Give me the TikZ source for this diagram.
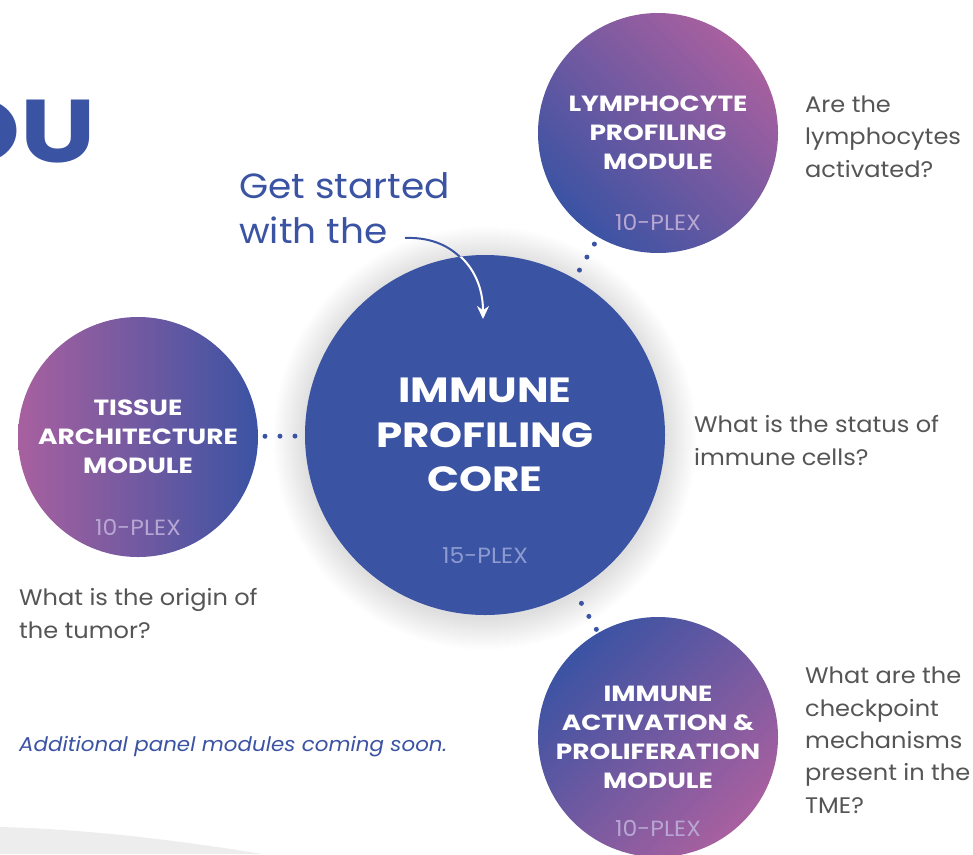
\documentclass[tikz,border=0pt]{standalone}
\usepackage{fontspec}
\setmainfont{Poppins}[FakeStretch=1.07]
\newfontfamily\wideb{Poppins}[FakeStretch=1.2]
\usetikzlibrary{arrows.meta,calc}
\definecolor{cblue}{HTML}{3B53A3}
\definecolor{cpink}{HTML}{A8609F}
\definecolor{cgray}{HTML}{555555}
\definecolor{plexcore}{HTML}{8C9BD0}
\definecolor{plexmod}{HTML}{B7A6D2}
\definecolor{cfloor}{HTML}{EDEDED}
\begin{document}
\begin{tikzpicture}[x=1pt,y=-1pt,
  module/.style={circle, minimum size=240pt, inner sep=0pt, outer sep=0pt, text=white,
    font=\wideb\bfseries\fontsize{22}{29}\selectfont, align=center},
  coreball/.style={circle, minimum size=360pt, inner sep=0pt, outer sep=0pt, fill=cblue, text=white,
    font=\wideb\bfseries\fontsize{35}{44.5}\selectfont, align=center},
  plex/.style={anchor=base, inner sep=0pt, text=plexmod, font=\fontsize{22}{22}\selectfont},
  question/.style={anchor=base west, inner sep=0pt, align=left, text=cgray, font=\fontsize{22.5}{32.3}\selectfont},
  dotline/.style={cblue, line width=5pt, line cap=round, dash pattern=on 0pt off 15pt}
]
\useasboundingbox (0,0) rectangle (973,854);
\clip (0,0) rectangle (973,854);

% floor shape bottom left
\fill[cfloor] (0,827) .. controls (90,829) and (190,842) .. (262,854) -- (0,854) -- cycle;

% soft shadow around core
\foreach \r in {1,...,32}{
  \fill[black, opacity=0.0032] (485,438) circle (180+\r);
}

% circles
\node[coreball] (core) at (485,435) {IMMUNE\\PROFILING\\CORE};
\node[module, top color=cpink, bottom color=cblue, shading angle=-45] (lymph) at (658,133) {LYMPHOCYTE\\PROFILING\\MODULE};
\node[module, left color=cpink, right color=cblue] (tissue) at (138,437) {TISSUE\\ARCHITECTURE\\MODULE};
\node[module, top color=cblue, bottom color=cpink, shading angle=45] (act) at (658,737) {IMMUNE\\ACTIVATION \&\\PROLIFERATION\\MODULE};

% plex labels
\node[plex, text=plexcore] (pcore) at ($(core.center)+(0,128)$) {15-PLEX};
\node[plex] (plymph) at ($(lymph.center)+(0,97)$) {10-PLEX};
\node[plex] (ptissue) at ($(tissue.center)+(0,98)$) {10-PLEX};
\node[plex] (pact) at ($(act.center)+(0,99)$) {10-PLEX};

% dotted connectors
\draw[dotline, shorten <=7pt, shorten >=9.5pt] (tissue) -- (core);
\draw[dotline, shorten <=8pt, shorten >=8.5pt] (lymph) -- (core);
\draw[dotline, shorten <=14pt, shorten >=1.5pt] (core) -- (act);

% questions (anchored at the baseline of the last line)
\node[question] (qlymph) at (805,177) {Are the\\lymphocytes\\activated?};
\node[question] (qcore) at (694,465) {What is the status of\\immune cells?};
\node[question] (qtissue) at (19,638) {What is the origin of\\the tumor?};
\node[question] (qact) at (805,813) {What are the\\checkpoint\\mechanisms\\present in the\\TME?};

% title fragments
\node[anchor=base east, inner sep=0pt, text=cblue, font=\wideb\bfseries\fontsize{89}{89}\selectfont] (ou) at (96,162) {OU};
\node[anchor=base west, inner sep=0pt, align=left, text=cblue, font=\fontsize{35}{45}\selectfont] (start) at (239,243) {Get started\\with the};
\node[anchor=base west, inner sep=0pt, text=cblue, font=\itshape\fontsize{20}{20}\selectfont] (soon) at (19,751) {Additional panel modules coming soon.};

% arrow
\coordinate (astart) at (405,238);
\coordinate (aend) at (483,319);
\draw[cblue, line width=2pt] (astart) .. controls (452,236) and (483,268) .. (aend);
\begin{scope}
  \clip (core.center) circle (180);
  \draw[white, line width=2pt, -{Stealth[length=13pt,width=12pt]}] (astart) .. controls (452,236) and (483,268) .. (aend);
\end{scope}
\end{tikzpicture}
\end{document}
